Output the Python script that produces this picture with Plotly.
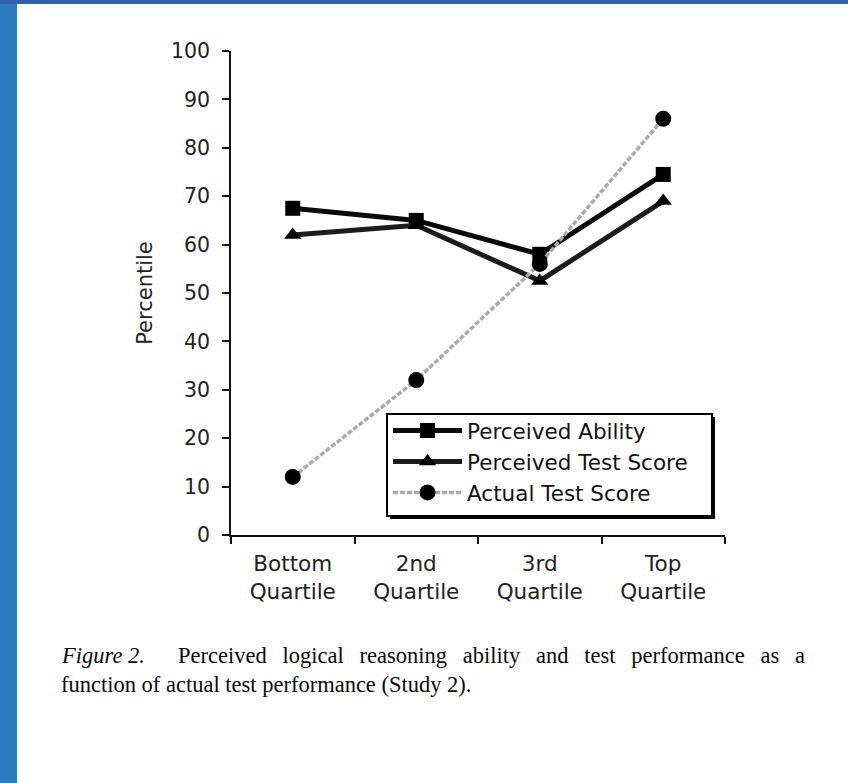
import plotly.graph_objects as go

categories = ["Bottom<br>Quartile", "2nd<br>Quartile", "3rd<br>Quartile", "Top<br>Quartile"]
perceived_ability = [67.5, 65.0, 58.0, 74.5]
perceived_test = [62.0, 64.0, 52.5, 69.0]
actual_test = [12.0, 32.0, 56.0, 86.0]
y_ticks = [0, 10, 20, 30, 40, 50, 60, 70, 80, 90, 100]

W, H = 848, 783
L, R, T, B = 231, 123, 51, 248
PW, PH = W - L - R, H - T - B

def px_x(p):
    return (p - L) / PW

def px_y(p):
    return (H - B - p) / PH

fig = go.Figure()
fig.add_trace(go.Scatter(
    x=categories, y=perceived_ability, name="Perceived Ability",
    mode="lines+markers", line=dict(color="#0a0a0a", width=5),
    marker=dict(symbol="square", size=15, color="#000000")))
fig.add_trace(go.Scatter(
    x=categories, y=perceived_test, name="Perceived Test Score",
    mode="lines+markers", line=dict(color="#1c1c1c", width=5),
    marker=dict(symbol="triangle-up", size=15, color="#000000")))
fig.add_trace(go.Scatter(
    x=categories, y=actual_test, name="Actual Test Score",
    mode="lines+markers", line=dict(color="#ababab", width=3.5, dash="5px,2px"),
    marker=dict(symbol="circle", size=16, color="#000000")))

font_sans = "DejaVu Sans, Verdana, sans-serif"
font_serif = "Liberation Serif, Times New Roman, serif"

def rect(x0, y0, x1, y1, fill, line_w=0, line_c="#000000", layer="below"):
    return dict(type="rect", xref="paper", yref="paper", layer=layer,
                x0=px_x(x0), x1=px_x(x1), y0=px_y(y1), y1=px_y(y0),
                fillcolor=fill, line=dict(width=line_w, color=line_c))

shapes = [
    rect(0, 0, 17, H, "#2c7cbd"),
    rect(0, 0, W, 4, "#2f62a9"),
    # legend box with drop shadow
    rect(390, 417, 715, 519, "#000000", layer="above"),
    rect(387, 414, 712, 516, "#ffffff", line_w=2, layer="above"),
]

gap = "\u00a0\u00a0\u2009"
line1_words = ["Perceived", "logical", "reasoning", "ability", "and", "test",
               "performance", "as", "a"]

fig.update_layout(
    width=W, height=H,
    margin=dict(l=L, r=R, t=T, b=B, pad=0),
    paper_bgcolor="white", plot_bgcolor="white",
    font=dict(family=font_sans, color="#111111", size=20),
    showlegend=True,
    legend=dict(
        x=px_x(388), y=px_y(410), xanchor="left", yanchor="top",
        bgcolor="rgba(0,0,0,0)", borderwidth=0,
        font=dict(family=font_sans, size=21.5, color="#111111"),
        itemwidth=69, tracegroupgap=0,
    ),
    xaxis=dict(
        type="category", range=[-0.5, 3.5], tickson="boundaries",
        ticks="outside", ticklen=7, tickwidth=1.5, tickcolor="#111111",
        showline=True, linecolor="#111111", linewidth=1.5,
        showgrid=False, zeroline=False, ticklabelstandoff=8,
        tickfont=dict(family=font_sans, size=21.5, color="#222222"),
    ),
    yaxis=dict(
        range=[0, 100], tickvals=y_ticks,
        ticks="outside", ticklen=7, tickwidth=1.5, tickcolor="#111111",
        showline=True, linecolor="#111111", linewidth=1.5,
        showgrid=False, zeroline=False, ticklabelstandoff=8,
        tickfont=dict(family=font_sans, size=20.5, color="#222222"),
        title=dict(text="Percentile", standoff=13,
                   font=dict(family=font_sans, size=21, color="#222222")),
    ),
    shapes=shapes,
    annotations=[
        dict(xref="paper", yref="paper", x=px_x(59), y=px_y(655),
             xanchor="left", yanchor="middle", showarrow=False,
             text="<i>Figure 2.</i>",
             font=dict(family=font_serif, size=22.5, color="#0a0a0a")),
        dict(xref="paper", yref="paper", x=px_x(176), y=px_y(655),
             xanchor="left", yanchor="middle", showarrow=False,
             text=gap.join(line1_words),
             font=dict(family=font_serif, size=22.5, color="#0a0a0a")),
        dict(xref="paper", yref="paper", x=px_x(59), y=px_y(684),
             xanchor="left", yanchor="middle", showarrow=False,
             text="function of actual test performance (Study 2).",
             font=dict(family=font_serif, size=22.5, color="#0a0a0a")),
    ],
)

fig.write_html("out.html", config={"displayModeBar": False},
               post_script="document.body.style.margin='0px';document.body.style.overflow='hidden';")
